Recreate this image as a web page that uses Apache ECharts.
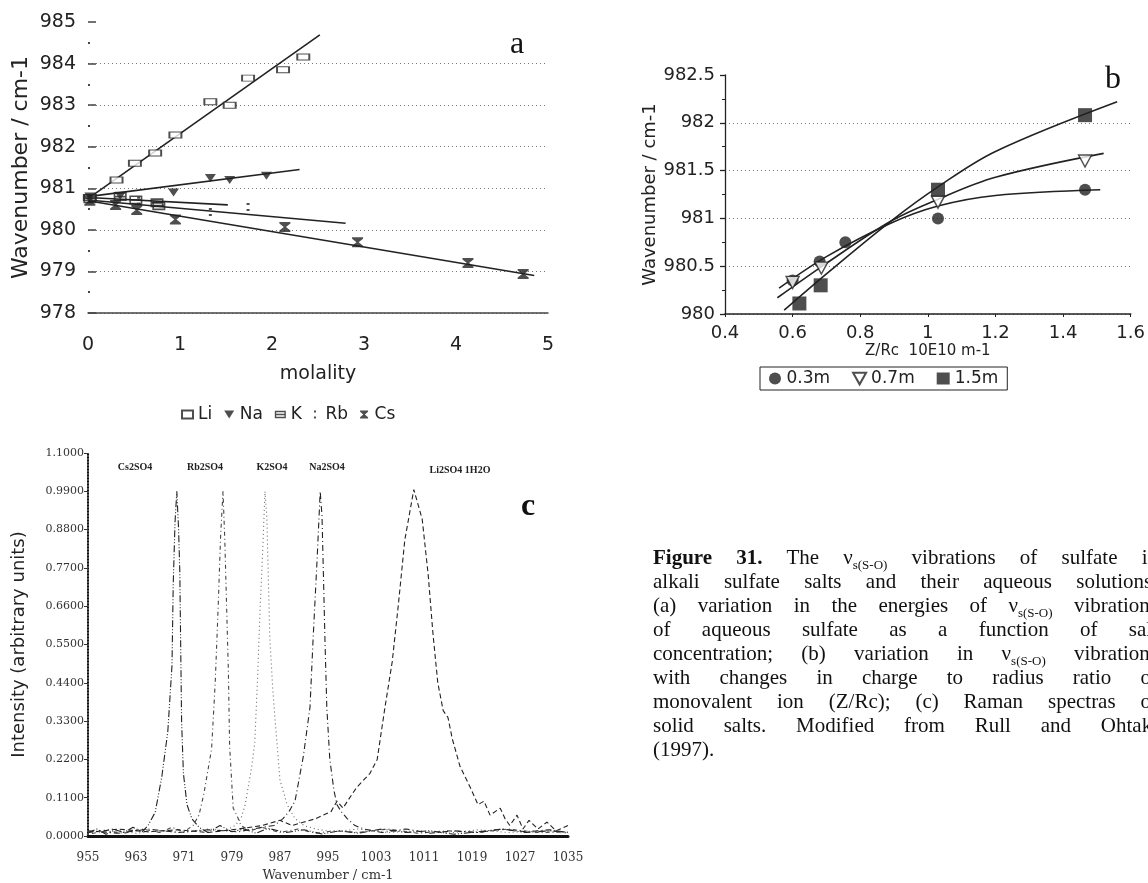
<!DOCTYPE html>
<html><head><meta charset="utf-8">
<script src="https://cdn.jsdelivr.net/npm/echarts@6/dist/echarts.min.js"></script>
<style>
html,body{margin:0;padding:0;background:#fff;overflow:hidden;width:1148px;height:883px}
#chart{position:absolute;left:0;top:0;width:1148px;height:883px}
#cap{position:absolute;left:653px;top:545px;width:505px;font-family:'Liberation Serif','Times New Roman',serif;font-size:21px;line-height:24px;color:#111}
#cap div{text-align:justify;text-align-last:justify;height:24px;white-space:nowrap}
#cap div.last{text-align-last:left}
#cap .sub{font-size:13px;position:relative;top:5px;line-height:0}
</style></head>
<body>
<div id="chart"></div>
<div id="cap">
<div><b>Figure 31.</b> The ν<span class="sub">s(S-O)</span> vibrations of sulfate in</div>
<div>alkali sulfate salts and their aqueous solutions:</div>
<div>(a) variation in the energies of ν<span class="sub">s(S-O)</span> vibrations</div>
<div>of aqueous sulfate as a function of salt</div>
<div>concentration; (b) variation in ν<span class="sub">s(S-O)</span> vibrations</div>
<div>with changes in charge to radius ratio of</div>
<div>monovalent ion (Z/Rc); (c) Raman spectras of</div>
<div>solid salts. Modified from Rull and Ohtaki</div>
<div class="last">(1997).</div>
</div>
<script>
// ---------- Panel a : wavenumber vs molality ----------
const aLegendNames = ['Li', 'Na', 'K', 'Rb', 'Cs'];
const aLi = [[0.02,980.78],[0.31,981.2],[0.51,981.6],[0.73,981.85],[0.95,982.28],[1.33,983.08],[1.54,983.0],[1.74,983.65],[2.12,983.85],[2.34,984.16]];
const aNa = [[0.02,980.8],[0.35,980.82],[0.93,980.9],[1.33,981.25],[1.54,981.2],[1.94,981.3]];
const aK  = [[0.02,980.75],[0.35,980.8],[0.52,980.72],[0.75,980.65],[0.77,980.58]];
const aRb = [[0.02,980.74],[0.55,980.7],[1.33,980.43],[1.74,980.55]];
const aCs = [[0.02,980.7],[0.3,980.6],[0.53,980.48],[0.95,980.25],[2.14,980.07],[2.93,979.7],[4.13,979.2],[4.73,978.94]];
const aLiFit = [[0,980.75],[2.52,984.69]];
const aNaFit = [[0,980.8],[2.3,981.45]];
const aKFit  = [[0,980.78],[1.52,980.6]];
const aRbFit = [[0,980.72],[2.8,980.16]];
const aCsFit = [[0,980.7],[4.85,978.9]];

// ---------- Panel b : wavenumber vs Z/Rc ----------
const bLegendNames = ['0.3m', '0.7m', '1.5m'];
const b03 = [[0.6,980.35],[0.68,980.55],[0.756,980.75],[1.03,981.0],[1.465,981.3]];
const b07 = [[0.6,980.33],[0.685,980.48],[1.03,981.17],[1.465,981.6]];
const b15 = [[0.62,980.11],[0.683,980.30],[1.03,981.3],[1.465,982.08]];
const b03Fit = [[0.56,980.27],[0.7,980.6],[0.89,980.95],[1.03,981.13],[1.2,981.24],[1.51,981.3]];
const b07Fit = [[0.555,980.17],[0.7,980.53],[0.89,980.97],[1.03,981.2],[1.2,981.43],[1.52,981.68]];
const b15Fit = [[0.575,980.04],[0.7,980.42],[0.89,980.97],[1.03,981.33],[1.2,981.7],[1.56,982.22]];

// ---------- Panel c : Raman spectra ----------
const cPeakLabels = ['Cs2SO4', 'Rb2SO4', 'K2SO4', 'Na2SO4', 'Li2SO4 1H2O'];
const cCs = [[955,0.01],[956.5,0.02],[958,0.005],[959.5,0.018],[961,0.01],[962.5,0.025],[964,0.012],[965,0.03],[966.2,0.068],[967.3,0.17],[968.3,0.30],[969,0.49],[969.2,0.72],[969.5,0.9],[969.8,0.99],[970.1,0.88],[970.3,0.76],[970.6,0.33],[970.9,0.18],[971.5,0.09],[972.3,0.05],[973.5,0.025],[975,0.01],[977,0.03],[979,0.012],[981,0.02],[983,0.008],[985,0.022],[988,0.01],[991,0.018],[994,0.006],[997,0.015],[1000,0.008],[1004,0.02],[1008,0.01],[1012,0.015],[1016,0.005],[1020,0.012],[1024,0.02],[1028,0.01],[1032,0.015],[1035,0.01]];
const cRb = [[955,0.005],[958,0.015],[961,0.008],[964,0.02],[967,0.01],[969,0.025],[971,0.012],[972.5,0.03],[973.5,0.06],[974.3,0.12],[975.6,0.25],[976.2,0.44],[976.7,0.66],[977.1,0.86],[977.5,0.99],[977.8,0.85],[978.1,0.66],[978.4,0.47],[978.6,0.26],[979.2,0.08],[979.8,0.06],[980.5,0.03],[982,0.015],[984,0.025],[987,0.01],[990,0.02],[993,0.008],[996,0.015],[1000,0.01],[1005,0.02],[1010,0.008],[1015,0.015],[1020,0.01],[1025,0.02],[1030,0.01],[1035,0.012]];
const cK = [[955,0.01],[959,0.02],[963,0.008],[967,0.015],[971,0.01],[975,0.02],[978,0.015],[979.5,0.03],[980.5,0.05],[981.2,0.09],[982.3,0.2],[982.8,0.27],[983.3,0.47],[983.7,0.66],[984,0.77],[984.5,0.99],[984.8,0.92],[985.3,0.57],[985.8,0.42],[986.2,0.33],[987,0.16],[988.2,0.09],[989.5,0.05],[991,0.03],[993,0.02],[996,0.012],[1000,0.02],[1005,0.01],[1010,0.015],[1015,0.008],[1020,0.018],[1025,0.01],[1030,0.015],[1035,0.008]];
const cNa = [[955,0.015],[960,0.008],[965,0.02],[970,0.01],[975,0.018],[980,0.012],[984,0.025],[986,0.03],[987.5,0.05],[988.5,0.07],[989.5,0.1],[990.9,0.23],[992,0.37],[992.5,0.56],[993.2,0.8],[993.7,0.99],[994,0.92],[994.5,0.56],[994.8,0.37],[995.3,0.22],[996,0.13],[996.5,0.09],[997.2,0.07],[998.2,0.05],[999.5,0.03],[1001,0.02],[1004,0.01],[1008,0.02],[1012,0.008],[1016,0.015],[1020,0.01],[1024,0.02],[1028,0.012],[1032,0.018],[1035,0.01]];
const cLi = [[955,0.01],[960,0.02],[965,0.012],[970,0.018],[975,0.01],[980,0.02],[984,0.03],[987,0.045],[989,0.03],[991,0.04],[993,0.05],[994.2,0.06],[995.5,0.07],[996.5,0.1],[997.5,0.08],[999,0.12],[999.8,0.14],[1002,0.18],[1003.2,0.22],[1004.5,0.37],[1005.7,0.5],[1006.7,0.66],[1007.8,0.85],[1009.3,0.995],[1010.7,0.91],[1011.7,0.75],[1012.5,0.58],[1013.3,0.44],[1014.2,0.36],[1015,0.34],[1015.7,0.28],[1017,0.2],[1018.7,0.14],[1020,0.09],[1021,0.1],[1022,0.06],[1023.7,0.08],[1024.5,0.05],[1025.3,0.03],[1026.5,0.06],[1027.5,0.02],[1028.5,0.045],[1030,0.02],[1031.5,0.04],[1033,0.015],[1035,0.03]];

const INK = '#222';
const SANS = 'DejaVu Sans';

const symLi = 'rect';
const symNa = 'path://M0,0 L10,0 L5,8 Z';
const symK  = 'path://M0,0 H12 V8 H0 Z M1.5,1.5 V3.2 H10.5 V1.5 Z M1.5,4.8 V6.5 H10.5 V4.8 Z';
const symRb = 'path://M0,0 H2 V2 H0 Z M0,6 H2 V8 H0 Z';
const symCs = 'path://M0,0 H10 V1.5 L6,5 L10,8.5 V10 H0 V8.5 L4,5 L0,1.5 Z';
const symTri = 'path://M0,0 L10,0 L5,9 Z';

function gridSplitColors(n, major) {
  const arr = [];
  for (let i = 0; i < n; i++) arr.push(i === n - 1 ? 'rgba(0,0,0,0)' : major);
  return arr;
}

function fitSeries(data, xi, yi) {
  return {type: 'line', data: data, xAxisIndex: xi, yAxisIndex: yi, showSymbol: false, symbol: 'none',
    smooth: 0.35, lineStyle: {color: INK, width: 1.6}, silent: true, z: 2};
}
function ptSeries(name, data, xi, yi, symbol, size, hollow) {
  return {type: 'scatter', name: name, data: data, xAxisIndex: xi, yAxisIndex: yi, symbol: symbol, symbolSize: size,
    itemStyle: hollow ? {color: '#fff', borderColor: INK, borderWidth: 1.4} : {color: INK}, z: 3};
}
function specSeries(data, dash, color) {
  return {type: 'line', data: data, xAxisIndex: 2, yAxisIndex: 2, showSymbol: false, symbol: 'none',
    lineStyle: {color: color, width: 1.1, type: dash}, silent: true};
}

const chart = echarts.init(document.getElementById('chart'), null, {renderer: 'canvas'});
chart.setOption({
  animation: false,
  backgroundColor: '#fff',
  grid: [
    {left: 88, top: 22, width: 460, height: 291},
    {left: 725, top: 75, width: 412, height: 239},
    {left: 88, top: 453, width: 480, height: 389}
  ],
  legend: [
    {data: aLegendNames, left: 176, top: 401, itemWidth: 11, itemHeight: 8, itemGap: 12, selectedMode: false,
     textStyle: {fontFamily: SANS, fontSize: 17, color: INK}},
    {data: bLegendNames, left: 760, top: 367, itemWidth: 13, itemHeight: 12, itemGap: 22, selectedMode: false,
     padding: [3, 9], borderColor: INK, borderWidth: 1,
     textStyle: {fontFamily: SANS, fontSize: 17, color: INK}}
  ],
  xAxis: [
    {gridIndex: 0, type: 'value', min: 0, max: 5, interval: 1,
     axisLine: {show: true, lineStyle: {color: '#444', width: 1.5}}, axisTick: {show: false},
     axisLabel: {fontFamily: SANS, fontSize: 19, color: INK, margin: 23},
     splitLine: {show: false},
     name: 'molality', nameLocation: 'middle', nameGap: 52,
     nameTextStyle: {fontFamily: SANS, fontSize: 19, color: INK}},
    {gridIndex: 1, type: 'value', min: 0.4, max: 1.6, interval: 0.2,
     axisLine: {show: true, lineStyle: {color: INK, width: 1.6}}, axisTick: {show: true, length: 3, lineStyle: {color: INK}},
     axisLabel: {fontFamily: SANS, fontSize: 18, color: INK, margin: 10},
     splitLine: {show: false},
     name: 'Z/Rc  10E10 m-1', nameLocation: 'middle', nameGap: 30,
     nameTextStyle: {fontFamily: SANS, fontSize: 15, color: INK}},
    {gridIndex: 2, type: 'value', min: 955, max: 1035, interval: 8,
     axisLine: {show: true, lineStyle: {color: '#111', width: 3}}, axisTick: {show: false},
     axisLabel: {fontFamily: 'DejaVu Serif', fontSize: 12, color: '#333', margin: 16, formatter: v => String(v)},
     splitLine: {show: false},
     name: 'Wavenumber / cm-1', nameLocation: 'middle', nameGap: 33,
     nameTextStyle: {fontFamily: 'DejaVu Serif', fontSize: 13, color: '#333'}}
  ],
  yAxis: [
    {gridIndex: 0, type: 'value', min: 978, max: 985, interval: 1,
     axisLine: {show: false}, axisTick: {show: true, inside: true, length: 8, lineStyle: {color: '#444', width: 1.5}},
     minorTick: {show: true, splitNumber: 2, length: 2, lineStyle: {color: '#444', width: 2}},
     axisLabel: {fontFamily: SANS, fontSize: 19, color: INK, margin: 12},
     splitLine: {show: true, lineStyle: {type: [1, 3], width: 1.2, color: gridSplitColors(8, '#777')}},
     name: 'Wavenumber / cm-1', nameLocation: 'middle', nameGap: 56,
     nameTextStyle: {fontFamily: SANS, fontSize: 22, color: INK}},
    {gridIndex: 1, type: 'value', min: 980, max: 982.5, interval: 0.5,
     axisLine: {show: true, lineStyle: {color: INK, width: 1.3}},
     axisTick: {show: true, length: 5, lineStyle: {color: INK, width: 1.3}},
     minorTick: {show: true, splitNumber: 2, length: 3, lineStyle: {color: INK}},
     axisLabel: {fontFamily: SANS, fontSize: 18, color: INK, margin: 10},
     splitLine: {show: true, lineStyle: {type: [1, 3], width: 1.2, color: gridSplitColors(6, '#777')}},
     name: 'Wavenumber / cm-1', nameLocation: 'middle', nameGap: 64,
     nameTextStyle: {fontFamily: SANS, fontSize: 18, color: INK}},
    {gridIndex: 2, type: 'value', min: 0, max: 1.1, interval: 0.11,
     axisLine: {show: true, lineStyle: {color: '#111', width: 2, type: [1, 2]}},
     axisTick: {show: true, length: 4, lineStyle: {color: '#333'}},
     axisLabel: {fontFamily: 'DejaVu Serif', fontSize: 11, color: '#333', margin: 4,
       formatter: v => v.toFixed(4)},
     splitLine: {show: false},
     name: 'Intensity (arbitrary units)', nameLocation: 'middle', nameGap: 60,
     nameTextStyle: {fontFamily: SANS, fontSize: 18, color: INK}}
  ],
  graphic: [
    {type: 'text', x: 517, y: 45, style: {text: 'a', font: '32px "Liberation Serif"', fill: '#111', textAlign: 'center', textVerticalAlign: 'middle'}},
    {type: 'text', x: 1113, y: 80, style: {text: 'b', font: '32px "Liberation Serif"', fill: '#111', textAlign: 'center', textVerticalAlign: 'middle'}},
    {type: 'text', x: 528, y: 507, style: {text: 'c', font: 'bold 32px "Liberation Serif"', fill: '#111', textAlign: 'center', textVerticalAlign: 'middle'}},
    {type: 'text', x: 135, y: 467, style: {text: cPeakLabels[0], font: 'bold 10px "Liberation Serif"', fill: '#222', textAlign: 'center', textVerticalAlign: 'middle'}},
    {type: 'text', x: 205, y: 467, style: {text: cPeakLabels[1], font: 'bold 10px "Liberation Serif"', fill: '#222', textAlign: 'center', textVerticalAlign: 'middle'}},
    {type: 'text', x: 272, y: 467, style: {text: cPeakLabels[2], font: 'bold 10px "Liberation Serif"', fill: '#222', textAlign: 'center', textVerticalAlign: 'middle'}},
    {type: 'text', x: 327, y: 467, style: {text: cPeakLabels[3], font: 'bold 10px "Liberation Serif"', fill: '#222', textAlign: 'center', textVerticalAlign: 'middle'}},
    {type: 'text', x: 460, y: 470, style: {text: cPeakLabels[4], font: 'bold 10px "Liberation Serif"', fill: '#222', textAlign: 'center', textVerticalAlign: 'middle'}}
  ],
  series: [
    fitSeries(aLiFit, 0, 0), fitSeries(aNaFit, 0, 0), fitSeries(aKFit, 0, 0), fitSeries(aRbFit, 0, 0), fitSeries(aCsFit, 0, 0),
    ptSeries('Li', aLi, 0, 0, symLi, [12, 6], true),
    ptSeries('Na', aNa, 0, 0, symNa, [11, 8], false),
    ptSeries('K', aK, 0, 0, symK, [13, 9], false),
    ptSeries('Rb', aRb, 0, 0, symRb, [3, 8], false),
    ptSeries('Cs', aCs, 0, 0, symCs, [11, 10], false),
    fitSeries(b03Fit, 1, 1), fitSeries(b07Fit, 1, 1), fitSeries(b15Fit, 1, 1),
    ptSeries('0.3m', b03, 1, 1, 'circle', 12, false),
    ptSeries('0.7m', b07, 1, 1, symTri, [13, 12], true),
    ptSeries('1.5m', b15, 1, 1, 'rect', 14, false),
    specSeries(cCs, [7, 2, 1, 2, 1, 2], '#222'),
    specSeries(cRb, [1, 3, 4, 3], '#444'),
    specSeries(cK, [1, 3], '#666'),
    specSeries(cNa, [6, 3, 1, 3], '#222'),
    specSeries(cLi, [5, 3], '#222')
  ]
});
</script>
</body></html>
